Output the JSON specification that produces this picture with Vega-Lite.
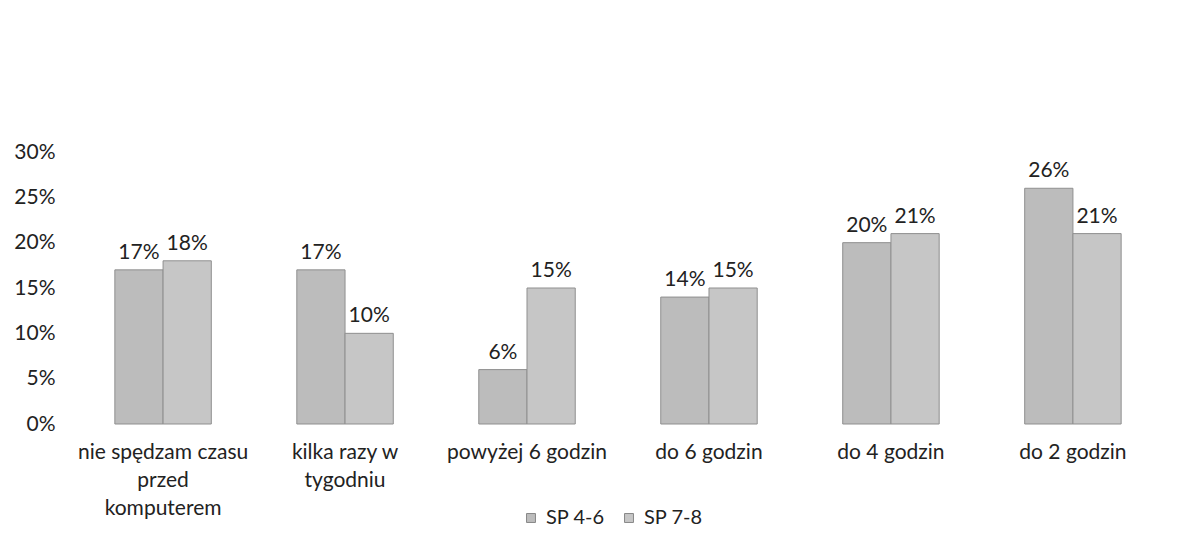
{
  "$schema": "https://vega.github.io/schema/vega-lite/v6.json",
  "width": 1090,
  "height": 272,
  "autosize": {"type": "none"},
  "padding": {"left": 73, "top": 152, "right": 32, "bottom": 132},
  "background": "white",
  "config": {
    "font": "Lato",
    "view": {"stroke": null},
    "axis": {"labelFont": "Lato", "labelColor": "#222", "labelFontSize": 21}
  },
  "data": {
    "values": [
      {"cat": "nie spędzam czasu przed komputerem", "series": "SP 4-6", "value": 0.17},
      {"cat": "nie spędzam czasu przed komputerem", "series": "SP 7-8", "value": 0.18},
      {"cat": "kilka razy w tygodniu", "series": "SP 4-6", "value": 0.17},
      {"cat": "kilka razy w tygodniu", "series": "SP 7-8", "value": 0.10},
      {"cat": "powyżej 6 godzin", "series": "SP 4-6", "value": 0.06},
      {"cat": "powyżej 6 godzin", "series": "SP 7-8", "value": 0.15},
      {"cat": "do 6 godzin", "series": "SP 4-6", "value": 0.14},
      {"cat": "do 6 godzin", "series": "SP 7-8", "value": 0.15},
      {"cat": "do 4 godzin", "series": "SP 4-6", "value": 0.20},
      {"cat": "do 4 godzin", "series": "SP 7-8", "value": 0.21},
      {"cat": "do 2 godzin", "series": "SP 4-6", "value": 0.26},
      {"cat": "do 2 godzin", "series": "SP 7-8", "value": 0.21}
    ]
  },
  "encoding": {
    "x": {
      "field": "cat",
      "type": "nominal",
      "sort": null,
      "title": null,
      "scale": {"paddingInner": 0.47, "paddingOuter": 0.23},
      "axis": {
        "labelAngle": 0,
        "domain": false,
        "ticks": false,
        "labelPadding": 17,
        "labelLimit": 300,
        "labelLineHeight": 28,
        "labelExpr": "datum.label == 'nie spędzam czasu przed komputerem' ? ['nie spędzam czasu', 'przed', 'komputerem'] : datum.label == 'kilka razy w tygodniu' ? ['kilka razy w', 'tygodniu'] : datum.label"
      }
    },
    "xOffset": {"field": "series", "type": "nominal"},
    "y": {
      "field": "value",
      "type": "quantitative",
      "title": null,
      "scale": {"domain": [0, 0.3], "nice": false},
      "axis": {
        "values": [0, 0.05, 0.1, 0.15, 0.2, 0.25, 0.3],
        "format": ".0%",
        "grid": false,
        "domain": false,
        "ticks": false,
        "labelPadding": 18
      }
    }
  },
  "layer": [
    {
      "mark": {"type": "bar", "stroke": "#8f8f8f", "strokeWidth": 1},
      "encoding": {
        "color": {
          "field": "series",
          "type": "nominal",
          "title": null,
          "scale": {"domain": ["SP 4-6", "SP 7-8"], "range": ["#bcbcbc", "#c6c6c6"]},
          "legend": {
            "orient": "none",
            "legendX": 448,
            "legendY": 356,
            "direction": "horizontal",
            "symbolType": "square",
            "symbolSize": 80,
            "symbolStrokeColor": "#888",
            "symbolStrokeWidth": 1,
            "labelFontSize": 20,
            "labelFont": "Lato",
            "labelColor": "#222",
            "columnPadding": 14,
            "labelOffset": 5
          }
        }
      }
    },
    {
      "mark": {"type": "text", "baseline": "bottom", "dy": -7, "fontSize": 21, "font": "Lato", "color": "#222"},
      "encoding": {
        "text": {"field": "value", "type": "quantitative", "format": ".0%"}
      }
    }
  ]
}
